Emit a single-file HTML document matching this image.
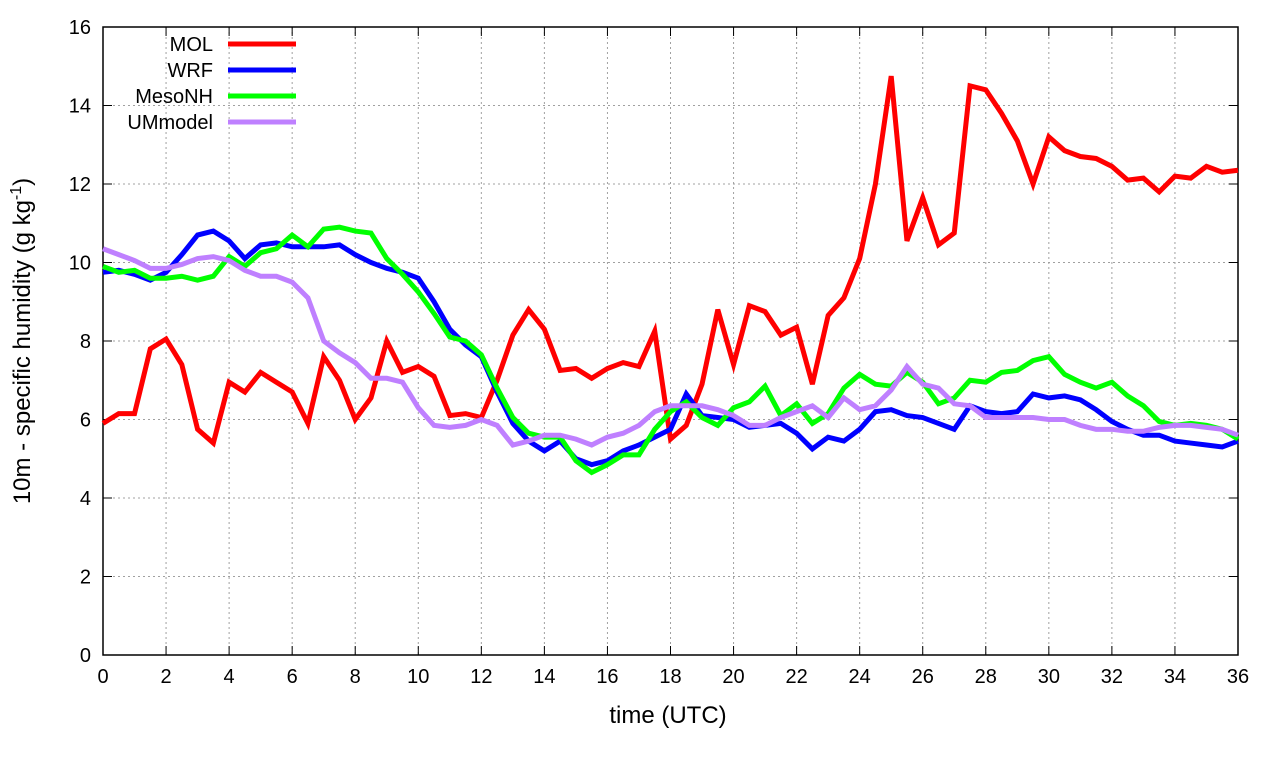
<!DOCTYPE html>
<html><head><meta charset="utf-8"><style>
body{margin:0;background:#fff}
svg{display:block;font-family:"Liberation Sans",sans-serif}
</style></head><body>
<svg id="c" width="1280" height="760"></svg>
<script>
const times=[];for(let i=0;i<=72;i++)times.push(i*0.5);
const mol=[5.9,6.15,6.15,7.8,8.05,7.4,5.75,5.4,6.95,6.7,7.2,6.95,6.7,5.9,7.6,7.0,6.0,6.55,8.0,7.2,7.35,7.1,6.1,6.15,6.05,7.0,8.15,8.8,8.3,7.25,7.3,7.05,7.3,7.45,7.35,8.25,5.5,5.85,6.9,8.8,7.4,8.9,8.75,8.15,8.35,6.9,8.65,9.1,10.1,12.0,14.75,10.55,11.65,10.45,10.75,14.5,14.4,13.8,13.1,12.0,13.2,12.85,12.7,12.65,12.45,12.1,12.15,11.8,12.2,12.15,12.45,12.3,12.35];
const wrf=[9.75,9.8,9.7,9.55,9.75,10.2,10.7,10.8,10.55,10.1,10.45,10.5,10.4,10.4,10.4,10.45,10.2,10.0,9.85,9.75,9.6,9.0,8.3,7.9,7.6,6.7,5.9,5.45,5.2,5.45,5.0,4.85,4.95,5.2,5.35,5.55,5.75,6.65,6.1,6.05,6.0,5.8,5.85,5.9,5.65,5.25,5.55,5.45,5.75,6.2,6.25,6.1,6.05,5.9,5.75,6.35,6.2,6.15,6.2,6.65,6.55,6.6,6.5,6.25,5.95,5.75,5.6,5.6,5.45,5.4,5.35,5.3,5.45];
const meso=[9.9,9.75,9.8,9.6,9.6,9.65,9.55,9.65,10.15,9.9,10.25,10.35,10.7,10.4,10.85,10.9,10.8,10.75,10.1,9.7,9.25,8.7,8.1,8.0,7.65,6.8,6.05,5.65,5.55,5.55,4.95,4.65,4.85,5.1,5.1,5.75,6.2,6.45,6.05,5.85,6.3,6.45,6.85,6.1,6.4,5.9,6.15,6.8,7.15,6.9,6.85,7.2,6.95,6.4,6.55,7.0,6.95,7.2,7.25,7.5,7.6,7.15,6.95,6.8,6.95,6.6,6.35,5.95,5.85,5.9,5.85,5.75,5.5];
const um=[10.35,10.2,10.05,9.85,9.85,9.95,10.1,10.15,10.05,9.8,9.65,9.65,9.5,9.1,8.0,7.7,7.45,7.05,7.05,6.95,6.3,5.85,5.8,5.85,6.0,5.85,5.35,5.45,5.6,5.6,5.5,5.35,5.55,5.65,5.85,6.2,6.35,6.35,6.35,6.25,6.1,5.85,5.85,6.05,6.2,6.35,6.05,6.55,6.25,6.35,6.75,7.35,6.9,6.8,6.4,6.35,6.05,6.05,6.05,6.05,6.0,6.0,5.85,5.75,5.75,5.7,5.7,5.8,5.85,5.85,5.8,5.75,5.6];
const xTicks=[0,2,4,6,8,10,12,14,16,18,20,22,24,26,28,30,32,34,36];
const yTicks=[0,2,4,6,8,10,12,14,16];
const seriesNames=["MOL","WRF","MesoNH","UMmodel"];
const seriesColors=["#ff0000","#0000ff","#00ff00","#bf80ff"];
const seriesData=[mol,wrf,meso,um];

const L=103,R=1238,T=27,B=655;
const X=v=>L+(v-0)/36*(R-L);
const Y=v=>B-(v-0)/16*(B-T);
const svg=document.getElementById('c');const NS="http://www.w3.org/2000/svg";
function mk(tag,a,txt){const e=document.createElementNS(NS,tag);for(const k in a)e.setAttribute(k,a[k]);if(txt!==undefined)e.textContent=txt;svg.appendChild(e);return e;}
xTicks.forEach(t=>{
 const x=X(t);
 if(t>0&&t<36){const g=mk('line',{x1:x,x2:x,y1:T,y2:B,stroke:'#a0a0a0','stroke-dasharray':'2,3','stroke-width':1});
 
 }
 const tk=mk('line',{x1:x,x2:x,y1:B,y2:B-9,stroke:'#000'});
 
 
 const tk2=mk('line',{x1:x,x2:x,y1:T,y2:T+9,stroke:'#000'});
 
 
 const l=mk('text',{x:x,y:B+28,'text-anchor':'middle','font-size':20},t);
 
 
});
yTicks.forEach(t=>{
 const y=Y(t);
 if(t>0&&t<16){const g=mk('line',{x1:L,x2:R,y1:y,y2:y,stroke:'#a0a0a0','stroke-dasharray':'2,3','stroke-width':1});
 
 }
 const tk=mk('line',{x1:L,x2:L+9,y1:y,y2:y,stroke:'#000'});
 
 
 const tk2=mk('line',{x1:R,x2:R-9,y1:y,y2:y,stroke:'#000'});
 
 
 const l=mk('text',{x:L-12,y:y+7,'text-anchor':'end','font-size':20},t);
 
 
});
const fr=mk('rect',{x:L,y:T,width:R-L,height:B-T,fill:'none',stroke:'#000','stroke-width':1.5});


seriesData.forEach((d,i)=>{
 const p=mk('polyline',{points:d.map((v,j)=>X(times[j])+','+Y(v)).join(' '),fill:'none',stroke:seriesColors[i],'stroke-width':5,'stroke-linejoin':'miter'});
 
 
 const ly=44+i*26;
 const lt=mk('text',{x:213,y:ly+7,'text-anchor':'end','font-size':20},seriesNames[i]);
 
 
 const ll=mk('line',{x1:228,x2:296,y1:ly,y2:ly,stroke:seriesColors[i],'stroke-width':5});
 
 
});
const xt=mk('text',{x:668,y:723,'text-anchor':'middle','font-size':24},'time (UTC)');


const yt=document.createElementNS(NS,'text');
yt.setAttribute('transform','translate(30,341) rotate(-90)');
yt.setAttribute('text-anchor','middle');yt.setAttribute('font-size','24');
yt.innerHTML='10m - specific humidity (g kg<tspan dy="-9" font-size="16">-1</tspan><tspan dy="9">)</tspan>';


svg.appendChild(yt);
</script>
</body></html>
